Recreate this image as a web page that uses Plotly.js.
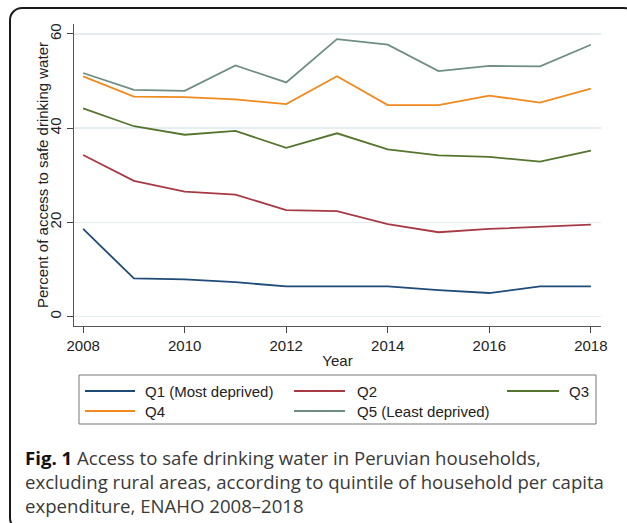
<!DOCTYPE html>
<html><head><meta charset="utf-8">
<script src="https://cdn.plot.ly/plotly-3.0.1.min.js"></script>
<style>
html,body{margin:0;padding:0;background:#fff;overflow:hidden;width:627px;height:523px;}
#chart{position:absolute;left:0;top:0;width:627px;height:523px;}
#frame{position:absolute;left:9px;top:7px;width:624px;height:520px;border:2px solid #1a1a1a;border-radius:13px;pointer-events:none;}
</style></head><body>
<div id="chart"></div><div id="frame"></div>
<script>
// ---- data ----
const years = [2008, 2009, 2010, 2011, 2012, 2013, 2014, 2015, 2016, 2017, 2018];
const seriesNames = ['Q1 (Most deprived)', 'Q2', 'Q3', 'Q4', 'Q5 (Least deprived)'];
const q1 = [18.6, 8.1, 7.9, 7.3, 6.4, 6.4, 6.4, 5.6, 5.0, 6.4, 6.4];
const q2 = [34.3, 28.8, 26.5, 25.9, 22.6, 22.4, 19.6, 17.9, 18.6, 19.1, 19.5];
const q3 = [44.2, 40.4, 38.6, 39.4, 35.8, 38.9, 35.5, 34.2, 33.9, 32.9, 35.2];
const q4 = [51.0, 46.7, 46.6, 46.1, 45.1, 51.0, 44.9, 44.9, 46.9, 45.4, 48.4];
const q5 = [51.7, 48.1, 47.9, 53.3, 49.7, 58.9, 57.7, 52.1, 53.2, 53.1, 57.7];
const yTickVals = [0, 20, 40, 60];
const xTickVals = [2008, 2010, 2012, 2014, 2016, 2018];
const xTitle = 'Year';
const yTitle = 'Percent of access to safe drinking water';
const captionBold = 'Fig. 1';
const captionLines = [
  ' Access to safe drinking water in Peruvian households,',
  'excluding rural areas, according to quintile of household per capita',
  'expenditure, ENAHO 2008–2018'
];

// ---- styling ----
const colors = ['#1f4b78', '#a63a45', '#55752f', '#ef8a1f', '#6e8e84'];
const allSeries = [q1, q2, q3, q4, q5];
const W = 627, H = 523;
const M = {l: 74, r: 26, t: 24, b: 197};
const pw = W - M.l - M.r, ph = H - M.t - M.b;
const px = v => (v - M.l) / pw;
const py = v => (H - M.b - v) / ph;
const AX_FONT = 'Liberation Sans, Arial, sans-serif';
const CAP_FONT = 'Open Sans, Noto Sans, sans-serif';

const traces = allSeries.map((s, i) => ({
  x: years, y: s, type: 'scatter', mode: 'lines', name: seriesNames[i],
  line: {color: colors[i], width: 1.8}, showlegend: false, hoverinfo: 'skip'
}));

// custom legend (Stata style box)
const legCols = [{l0: 85, l1: 135, t: 144}, {l0: 294, l1: 345, t: 356}, {l0: 507, l1: 559, t: 568}];
const legRows = [391, 411];
const shapes = [{
  type: 'rect', xref: 'paper', yref: 'paper',
  x0: px(79), x1: px(596), y0: py(375), y1: py(424),
  line: {color: '#777', width: 1}, fillcolor: 'rgba(0,0,0,0)'
}];
const annotations = [];
seriesNames.forEach((n, i) => {
  const c = legCols[i % 3], r = legRows[Math.floor(i / 3)];
  shapes.push({type: 'line', xref: 'paper', yref: 'paper', x0: px(c.l0), x1: px(c.l1), y0: py(r), y1: py(r),
    line: {color: colors[i], width: 1.8}});
  annotations.push({xref: 'paper', yref: 'paper', x: px(c.t), y: py(r), xanchor: 'left', yanchor: 'middle',
    text: n, showarrow: false, font: {family: AX_FONT, size: 15, color: '#222'}, borderpad: 0});
});
// y axis title (placed as rotated annotation to match the reference spacing)
annotations.push({xref: 'paper', yref: 'paper', x: px(42), y: py(175), xanchor: 'center', yanchor: 'middle',
  textangle: -90, text: yTitle, showarrow: false, font: {family: AX_FONT, size: 15, color: '#222'}, borderpad: 0});
// caption (one multi-line text block)
annotations.push({xref: 'paper', yref: 'paper', x: px(24), y: py(444), xanchor: 'left', yanchor: 'top', align: 'left',
  text: '<b><span style="color:#111">' + captionBold + '</span></b>' + captionLines.join('<br>'),
  showarrow: false, font: {family: CAP_FONT, size: 18.6, color: '#3a3a3a'}, borderpad: 0});

const layout = {
  width: W, height: H, margin: M, paper_bgcolor: 'rgba(0,0,0,0)', plot_bgcolor: '#fff',
  showlegend: false,
  xaxis: {
    range: [2007.82, 2018.2], tickvals: xTickVals, ticks: 'outside', ticklen: 6, tickcolor: '#444', tickwidth: 1,
    showline: true, linecolor: '#555', linewidth: 1, showgrid: false, zeroline: false,
    tickfont: {family: AX_FONT, size: 15, color: '#222'},
    title: {text: xTitle, font: {family: AX_FONT, size: 15, color: '#222'}, standoff: 2}
  },
  yaxis: {
    range: [-2, 62.1], tickvals: yTickVals, tickangle: -90, ticks: 'outside', ticklen: 6, tickcolor: '#444', tickwidth: 1,
    showline: true, linecolor: '#555', linewidth: 1, showgrid: true, gridcolor: '#e4edef', gridwidth: 1.5, zeroline: false,
    tickfont: {family: AX_FONT, size: 15, color: '#222'}
  },
  shapes: shapes, annotations: annotations
};
Plotly.newPlot('chart', traces, layout, {staticPlot: true, displayModeBar: false});
</script>
</body></html>
